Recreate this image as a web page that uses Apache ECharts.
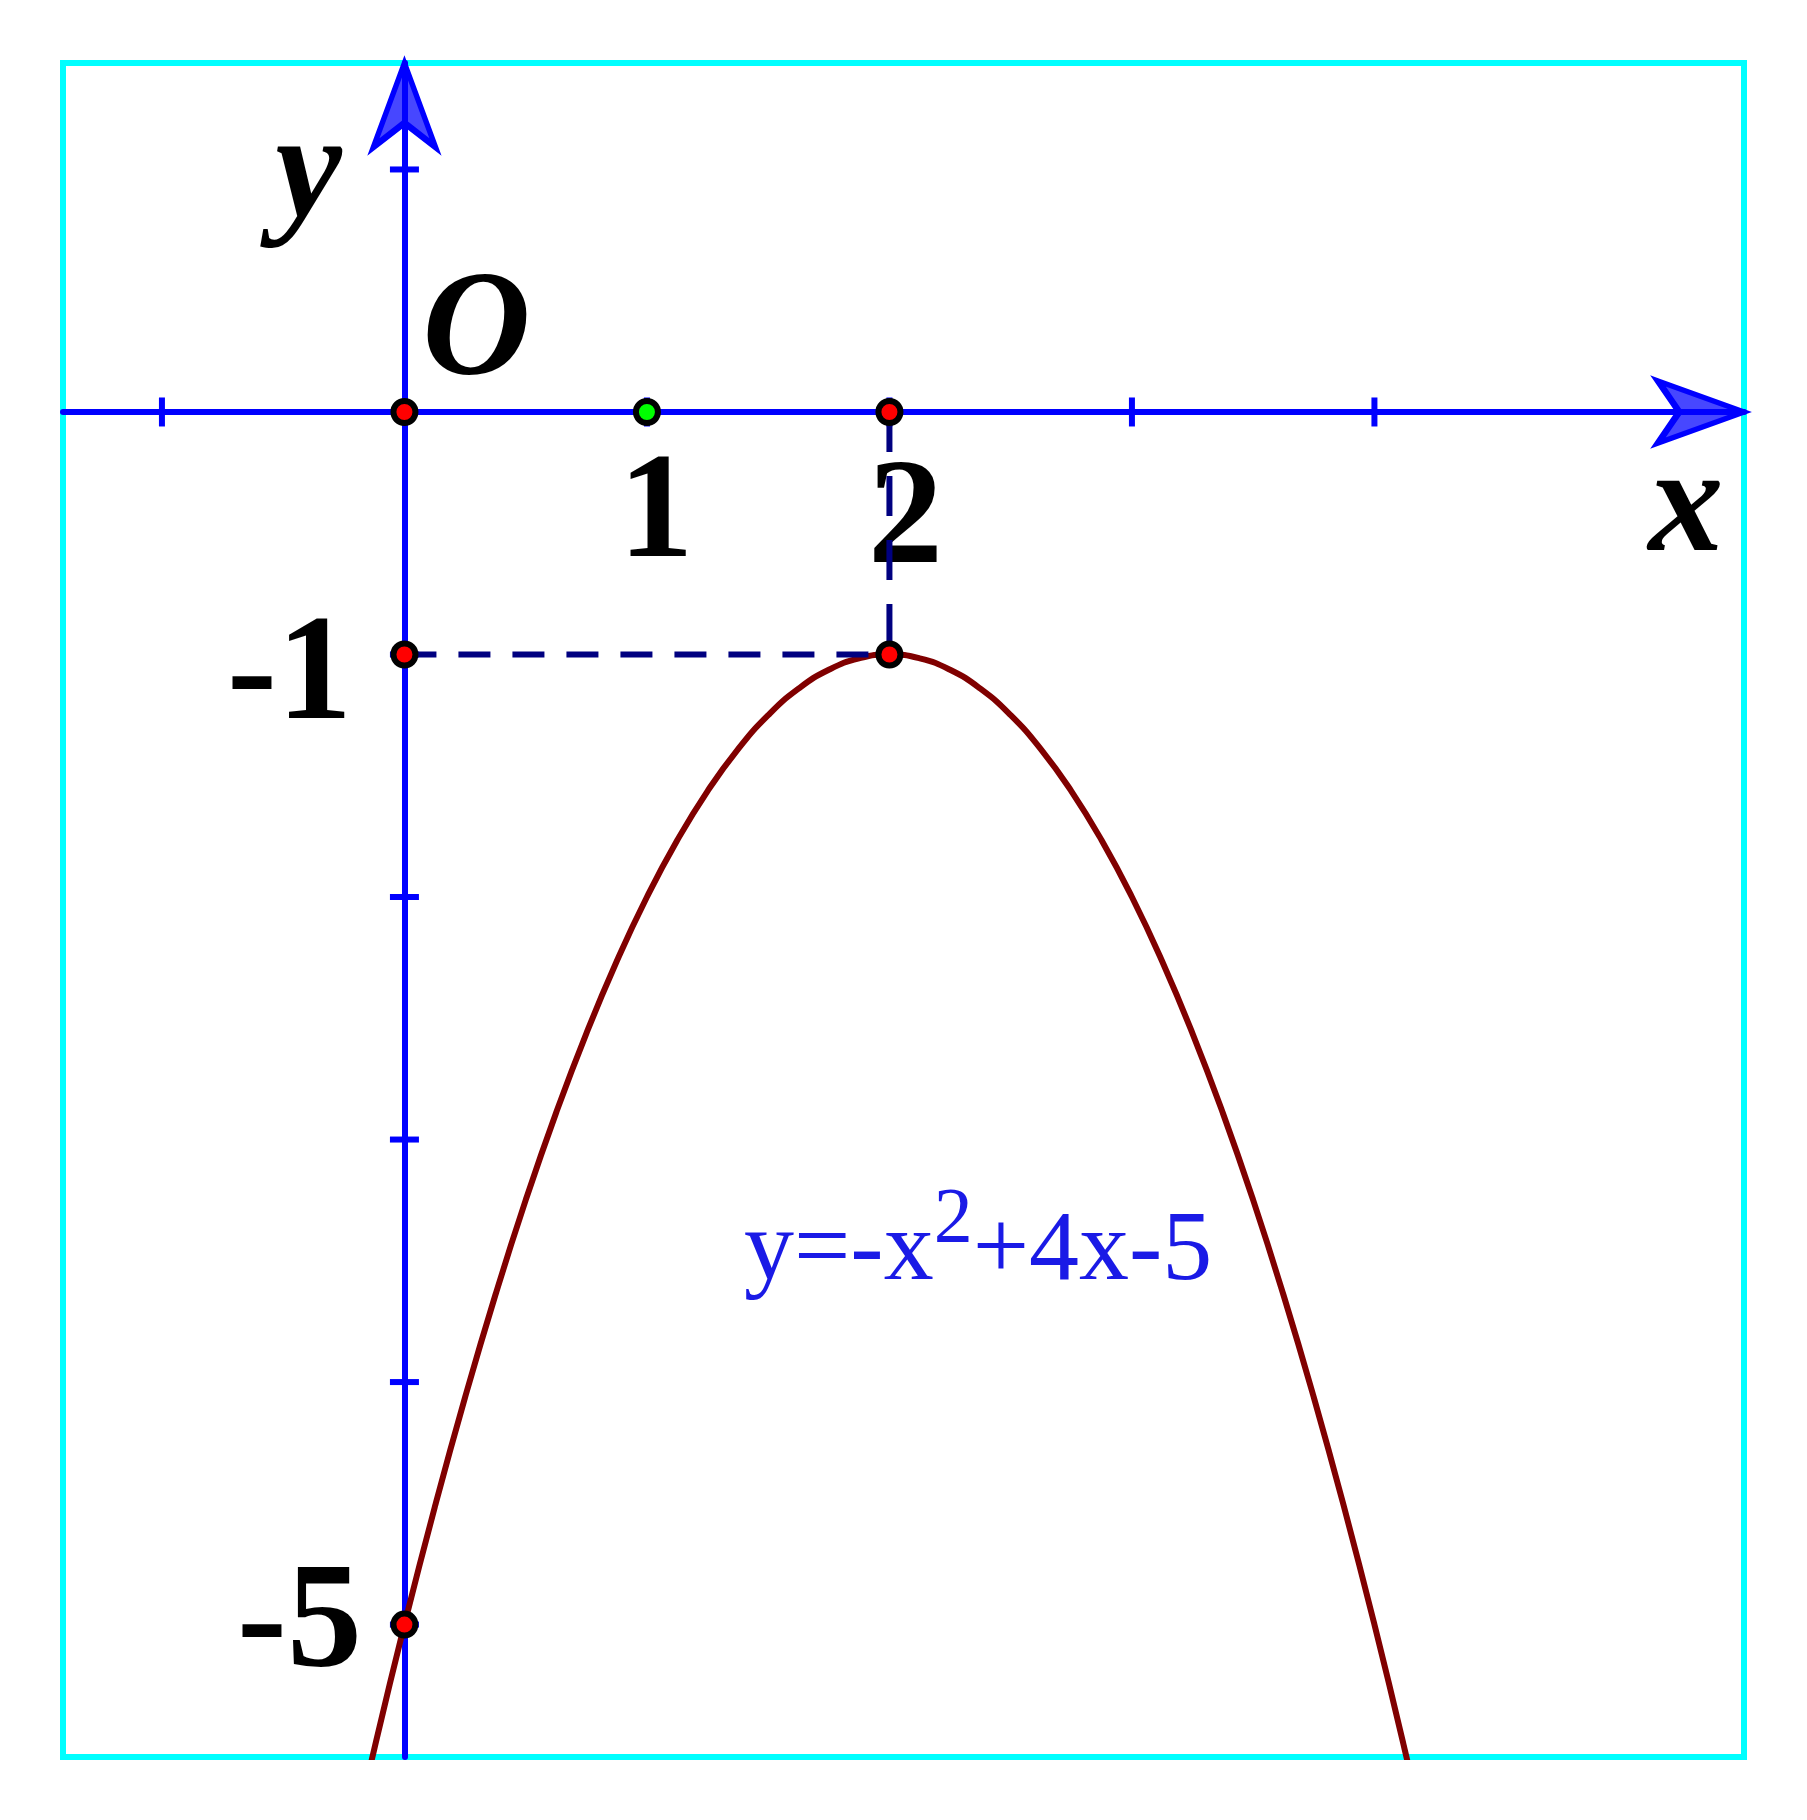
<!DOCTYPE html>
<html>
<head>
<meta charset="utf-8">
<script src="https://cdn.jsdelivr.net/npm/echarts@6/dist/echarts.min.js"></script>
<style>
  html, body { margin: 0; padding: 0; background: #fff; }
  #main { width: 1807px; height: 1820px; }
</style>
</head>
<body>
<div id="main"></div>
<script>
// axis window (data units)
var xRange = [-1.408, 5.524];
var yRange = [-5.546, 1.439];

// tick marks
var xTicks = [-1, 1, 2, 3, 4];
var yTicks = [1, -1, -2, -3, -4, -5];

// parabola
var curveX = [-0.25, -0.125, 0, 0.125, 0.25, 0.375, 0.5, 0.625, 0.75, 0.875, 1, 1.125, 1.25, 1.375, 1.5, 1.625, 1.75, 1.875, 2,
              2.125, 2.25, 2.375, 2.5, 2.625, 2.75, 2.875, 3, 3.125, 3.25, 3.375, 3.5, 3.625, 3.75, 3.875, 4, 4.125, 4.25];
var curveY = [-6.063, -5.516, -5, -4.516, -4.063, -3.641, -3.25, -2.891, -2.563, -2.266, -2, -1.766, -1.563, -1.391, -1.25, -1.141, -1.063, -1.016, -1,
              -1.016, -1.063, -1.141, -1.25, -1.391, -1.563, -1.766, -2, -2.266, -2.563, -2.891, -3.25, -3.641, -4.063, -4.516, -5, -5.516, -6.063];

// marked points
var redPoints = [[0, 0], [2, 0], [0, -1], [2, -1], [0, -5]];
var greenPoints = [[1, 0]];
var vertex = [2, -1];

// tick labels
var xLabelVals = [1, 2];
var yLabelVals = [-1, -5];

var chart = echarts.init(document.getElementById('main'));

var serif = '"Liberation Serif", serif';
var bigFont = { fontFamily: serif, fontSize: 150, fontWeight: 'bold', color: '#000' };
var italicFont = { fontFamily: serif, fontSize: 150, fontWeight: 'bold', fontStyle: 'italic', color: '#000' };

function textSeries(items, font) {
    return {
        type: 'scatter',
        symbol: 'circle',
        symbolSize: 1,
        silent: true,
        z: 6,
        itemStyle: { color: 'rgba(0,0,0,0)', opacity: 1 },
        label: Object.assign({ show: true, position: 'inside', align: 'center', verticalAlign: 'middle' }, font),
        data: items
    };
}

var xLabelOffsets = [[9, 105], [16, 111]];
var yLabelOffsets = [[-115, 25], [-105, 3]];

var option = {
    animation: false,
    backgroundColor: '#fff',
    grid: {
        left: 63, top: 63, right: 63, bottom: 63,
        show: true,
        borderColor: '#00ffff',
        borderWidth: 6
    },
    xAxis: {
        type: 'value',
        min: xRange[0], max: xRange[1],
        axisLine: { show: true, onZero: true, lineStyle: { color: '#0000ff', width: 6 } },
        axisTick: { show: false },
        axisLabel: { show: false },
        splitLine: { show: false }
    },
    yAxis: {
        type: 'value',
        min: yRange[0], max: yRange[1],
        axisLine: { show: true, onZero: true, lineStyle: { color: '#0000ff', width: 6 } },
        axisTick: { show: false },
        axisLabel: { show: false },
        splitLine: { show: false }
    },
    series: [
        {
            type: 'line',
            data: curveX.map(function (x, i) { return [x, curveY[i]]; }),
            smooth: true,
            symbol: 'none',
            z: 3,
            lineStyle: { color: '#800000', width: 6 }
        },
        {
            type: 'line',
            data: [[0, vertex[1]], vertex],
            symbol: 'none',
            z: 3,
            lineStyle: { color: '#000080', width: 6, type: [32, 22] }
        },
        {
            type: 'line',
            data: [[vertex[0], 0], vertex],
            symbol: 'none',
            z: 7,
            lineStyle: { color: '#000080', width: 6, type: [40, 24] }
        },
        {
            type: 'scatter',
            silent: true,
            symbol: 'rect',
            symbolSize: [6, 29],
            z: 2,
            itemStyle: { color: '#0000ff', opacity: 1 },
            data: xTicks.map(function (v) { return [v, 0]; })
        },
        {
            type: 'scatter',
            silent: true,
            symbol: 'rect',
            symbolSize: [29, 6],
            z: 2,
            itemStyle: { color: '#0000ff', opacity: 1 },
            data: yTicks.map(function (v) { return [0, v]; })
        },
        // axis arrow heads
        {
            type: 'scatter',
            silent: true,
            symbol: 'path://M0,0 L89,32 L0,64 L22,32 Z',
            symbolSize: [86, 62],
            symbolOffset: [-43, 0],
            z: 4,
            itemStyle: { color: 'rgba(0,0,255,0.72)', borderColor: '#0000ff', borderWidth: 6, opacity: 1 },
            data: [[xRange[1], 0]]
        },
        {
            type: 'scatter',
            silent: true,
            symbol: 'path://M32,0 L64,87 L32,62 L0,87 Z',
            symbolSize: [62, 84],
            symbolOffset: [0, 42],
            z: 4,
            itemStyle: { color: 'rgba(0,0,255,0.72)', borderColor: '#0000ff', borderWidth: 6, opacity: 1 },
            data: [[0, yRange[1]]]
        },
        {
            type: 'scatter',
            silent: true,
            symbolSize: 22,
            z: 8,
            itemStyle: { color: '#ff0000', borderColor: '#000', borderWidth: 6, opacity: 1 },
            data: redPoints
        },
        {
            type: 'scatter',
            silent: true,
            symbolSize: 22,
            z: 8,
            itemStyle: { color: '#00ff00', borderColor: '#000', borderWidth: 6, opacity: 1 },
            data: greenPoints
        },
        textSeries(xLabelVals.map(function (v, i) {
            return { value: [v, 0], label: { formatter: String(v), offset: xLabelOffsets[i] } };
        }), bigFont),
        textSeries(yLabelVals.map(function (v, i) {
            return { value: [0, v], label: { formatter: String(v), offset: yLabelOffsets[i] } };
        }), bigFont),
        textSeries([
            { value: [0, 0], label: { formatter: 'O', offset: [72, -77] } },
            { value: [xRange[1], 0], label: { formatter: 'x', offset: [-58, 99] } },
            { value: [0, yRange[1]], label: { formatter: 'y', offset: [-96, 114] } }
        ], italicFont),
        {
            type: 'scatter',
            silent: true,
            symbolSize: 1,
            z: 6,
            itemStyle: { color: 'rgba(0,0,0,0)', opacity: 1 },
            label: {
                show: true,
                position: 'inside',
                align: 'left',
                verticalAlign: 'middle',
                formatter: '{m|y=-x}{s|2}{m|+4x-5}',
                rich: {
                    m: { fontFamily: serif, fontSize: 100, color: '#1a1ae6' },
                    s: { fontFamily: serif, fontSize: 78, color: '#1a1ae6', padding: [0, 0, 64, 0] }
                }
            },
            data: [[1.40, -3.465]]
        }
    ]
};

chart.setOption(option);
</script>
</body>
</html>
